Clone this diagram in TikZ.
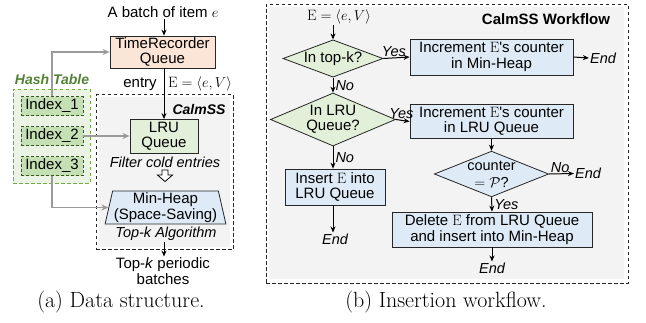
\documentclass[tikz,border=0pt]{standalone}
\usepackage{fontspec}
\newfontfamily\arialf{Liberation Sans}
\usetikzlibrary{arrows.meta,shapes.geometric}
\definecolor{salmon}{HTML}{FBE5D6}
\definecolor{leaf}{HTML}{E2F0D9}
\definecolor{leafdk}{HTML}{C5E0B4}
\definecolor{leafln}{HTML}{385723}
\definecolor{hashbg}{HTML}{EBF3E5}
\definecolor{hashln}{HTML}{70AD47}
\definecolor{hashtxt}{HTML}{548235}
\definecolor{sky}{HTML}{DEEBF7}
\definecolor{panel}{HTML}{F3F3F3}
\definecolor{conn}{HTML}{9A9A9A}
\begin{document}
\begin{tikzpicture}[x=1pt,y=-1pt,
  font=\arialf\fontsize{15}{15.5}\selectfont,
  base/.style={draw=black!85, line width=0.8pt, align=center, inner sep=0pt},
  salmonbox/.style={base, fill=salmon},
  greenbox/.style={base, fill=leaf},
  bluebox/.style={base, fill=sky},
  decide/.style={base, diamond, aspect=2.5},
  idx/.style={draw=leafln, line width=0.8pt, dash pattern=on 3pt off 2pt, fill=leafdk,
    inner sep=0pt, minimum width=62, minimum height=19},
  region/.style={draw=black!85, line width=0.8pt, dash pattern=on 3.5pt off 2.5pt,
    inner sep=0pt},
  hashregion/.style={draw=hashln, line width=0.8pt, dash pattern=on 3.5pt off 2.5pt,
    fill=hashbg, inner sep=0pt},
  arr/.style={-{Stealth[length=6pt,width=5pt]}, line width=1pt, black},
  grayarr/.style={-{Stealth[length=7pt,width=6pt]}, line width=1.4pt, conn},
  tag/.style={inner sep=1pt, font=\arialf\itshape\fontsize{14.5}{15}\selectfont},
  plain/.style={inner sep=1pt, align=center},
  caption/.style={inner sep=0pt, font=\fontsize{22}{24}\selectfont},
]
\useasboundingbox (0,0) rectangle (646,322);

% ---------- (a) data structure ----------
\node[hashregion, minimum width=77, minimum height=94] (hashbox) at (51.5,136) {};
\node[region, minimum width=137, minimum height=155] (calm) at (164.5,172) {};
% grey backdrop, set slightly inside the dashed frame
\fill[panel] ([shift={(3,3)}]calm.north west) rectangle ([shift={(-3,-3)}]calm.south east);
\node[inner sep=0pt, font=\arialf\bfseries\itshape\fontsize{14}{15}\selectfont, text=hashtxt] (hashlbl) at (52,79) {Hash Table};
\node[inner sep=0pt, font=\arialf\bfseries\itshape\fontsize{14}{15}\selectfont] (calmlbl) at (199,109) {CalmSS};

\node[idx] (i1) at (52,106) {Index\_1};
\node[idx] (i2) at (52,136) {Index\_2};
\node[idx] (i3) at (52,166) {Index\_3};

\node[plain] (batch) at (163,12) {A batch of item $e$};
\node[salmonbox, minimum width=105, minimum height=32] (tr) at (162.5,52) {TimeRecorder\\Queue};
\node[greenbox, minimum width=68, minimum height=34] (lru) at (164,136.5) {LRU\\Queue};
\node[plain] (entry) at (140,84) {entry};
\node[plain] (ent) at (200,84) {$\mathrm{E}=\langle e,V\rangle$};
\node[tag] (filt) at (165,162) {Filter cold entries};
\node[bluebox, trapezium, trapezium stretches=true, trapezium left angle=76,
  trapezium right angle=76, minimum width=121, minimum height=33] (heap) at (165.5,207.5)
  {Min-Heap\\(Space-Saving)};
\node[tag] (algo) at (166,234) {Top-\textit{k} Algorithm};
\node[plain] (out) at (163,271) {Top-\textit{k} periodic\\batches};

\draw[arr] (batch.south -| lru.north) -- (tr.north -| lru.north);
\draw[arr] (tr.south -| lru.north) -- (lru.north);
\draw[arr] (algo.south -| lru.north) -- (out.north -| lru.north);
% hollow block arrow between the LRU stage and the heap
\draw[line width=0.8pt, fill=white] (filt.south) ++(-3,1.5) -- ++(6,0) -- ++(0,5)
  -- ++(4.5,0) -- ++(-7.5,6.5) -- ++(-7.5,-6.5) -- ++(4.5,0) -- cycle;

\draw[grayarr] (i1.north) |- (tr.west);
\draw[grayarr] (i2.east) -- (lru.west |- i2.east);
\draw[grayarr] (i3.south) |- (heap.west);

\node[caption] (capa) at (121,302) {(a) Data structure.};

% ---------- (b) insertion workflow ----------
\node[region, minimum width=362, minimum height=279] (flow) at (447,143.5) {};
\fill[panel] ([shift={(3,3)}]flow.north west) rectangle ([shift={(-4,-4)}]flow.south east);
\node[inner sep=0pt, font=\arialf\bfseries\fontsize{15}{15.5}\selectfont] (flowlbl) at (546,19) {CalmSS Workflow};
\node[plain] (inE) at (339,17) {$\mathrm{E}=\langle e,V\rangle$};

\node[decide, fill=leaf, minimum width=100, minimum height=37] (d1) at (333,58.5) {In top-k?};
\node[bluebox, minimum width=163, minimum height=36] (b1) at (491.5,57) {Increment $\mathrm{E}$'s counter\\in Min-Heap};
\node[tag] (end1) at (603,58) {End};

\node[decide, fill=leaf, minimum width=108, minimum height=53] (d2) at (333,119.5) {In LRU\\Queue?};
\node[bluebox, minimum width=163, minimum height=34] (b2) at (491.5,121.5) {Increment $\mathrm{E}$'s counter\\in LRU Queue};

\node[decide, fill=sky, minimum width=104, minimum height=42,
  font=\arialf\fontsize{14.5}{17}\selectfont] (d3) at (491.5,174) {counter\\$=\mathcal{P}$?};
\node[tag] (end3) at (588,173.5) {End};

\node[bluebox, minimum width=100, minimum height=36] (b4) at (335,187) {Insert $\mathrm{E}$ into\\LRU Queue};
\node[tag] (end4) at (335,239) {End};

\node[bluebox, minimum width=200, minimum height=35] (b3) at (492,229.5) {Delete $\mathrm{E}$ from LRU Queue\\and insert into Min-Heap};
\node[tag] (end2) at (492,268) {End};

\draw[arr] (inE.south -| d1.north) -- (d1.north);
\draw[arr] (d1.east) -- node[tag, above, pos=0.4] {Yes} (b1.west);
\draw[arr] (b1.east) -- (end1.west);
\draw[arr] (d1.south) -- node[tag, right, inner sep=2pt] {No} (d2.north);
\draw[arr] (d2.east) -- node[tag, above, pos=0.4] {Yes} (b2.west -| b1.west);
\draw[arr] (d2.south) -- node[tag, right, inner sep=2pt] {No} (b4.north -| d2.south);
\draw[arr] (b4.south -| d2.south) -- (end4.north -| d2.south);
\draw[arr] (b2.south) -- (d3.north);
\draw[arr] (d3.east) -- node[tag, above, pos=0.45] {No} (end3.west);
\draw[arr] (d3.south) -- node[tag, right, inner sep=2pt] {Yes} (b3.north);
\draw[arr] (b3.south) -- (end2.north);

\node[caption] (capb) at (446,302) {(b) Insertion workflow.};
\end{tikzpicture}
\end{document}
